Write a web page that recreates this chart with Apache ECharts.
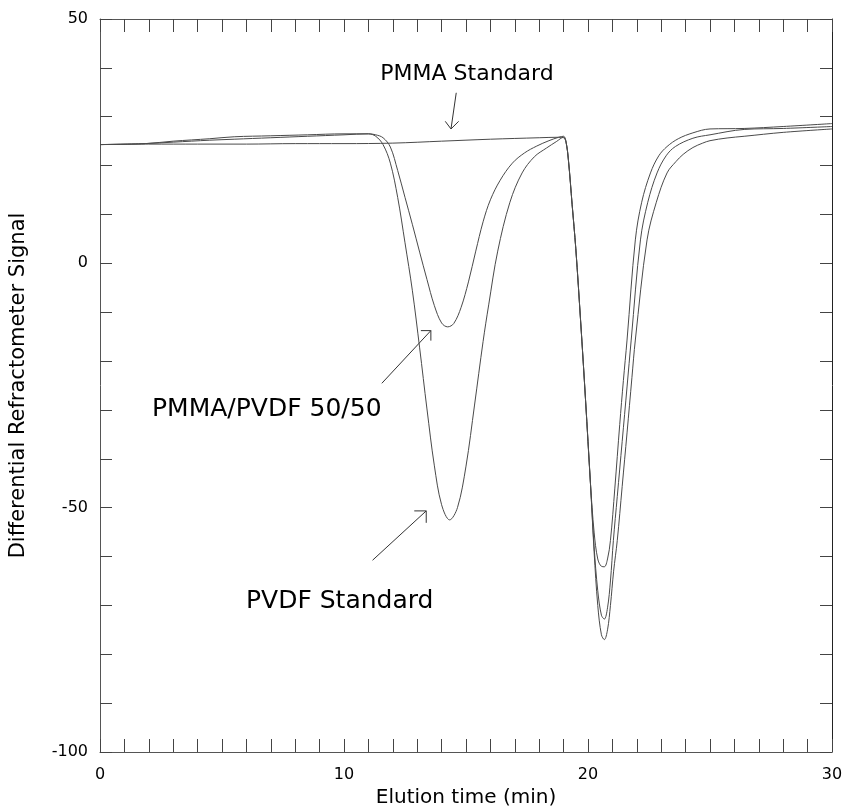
<!DOCTYPE html>
<html><head><meta charset="utf-8">
<script src="https://cdn.jsdelivr.net/npm/echarts@6/dist/echarts.min.js"></script>
<style>html,body{margin:0;padding:0;background:#fff}#c{width:845px;height:808px}</style>
</head><body><div id="c"></div>
<script>
// ---- data (elution time in min, differential RI signal) ----
const pmmaX = [0,2,4,6,8,10,12,14,16,18,18.8,19.0,19.1,19.2,19.35,19.5,19.7,19.9,20.1,20.25,20.4,20.55,20.67,20.8,20.92,21.1,21.3,21.45,21.6,21.94,22.2,22.56,22.9,23.24,23.7,24.3,25.0,26.4,28,30];
const pmmaY = [24.3,24.4,24.4,24.4,24.5,24.5,24.6,25.0,25.4,25.7,25.8,25.7,24.8,21,12,3,-12,-28,-45,-55,-60.5,-62,-62.1,-60.5,-56.7,-46,-33,-24,-15.7,4.8,12.5,18.5,22,23.9,25.5,26.7,27.5,27.6,28.0,28.6];

const blendX = [0,1.85,3,4.5,5.5,7,8.5,10,11,11.3,11.6,11.9,12.2,12.5,12.8,13.1,13.4,13.7,14.0,14.25,14.5,14.8,15.1,15.4,15.7,16.0,16.4,16.9,17.4,17.9,18.4,18.8,19.0,19.1,19.2,19.35,19.5,19.7,19.9,20.1,20.25,20.4,20.55,20.67,20.8,20.92,21.04,21.2,21.4,21.6,21.77,22.15,22.45,22.83,23.2,23.58,24.3,25.0,26.4,28,30];
const blendY = [24.3,24.5,25.0,25.5,25.9,26.1,26.3,26.5,26.5,26.3,25.7,23.8,19.0,13.5,8.0,2.3,-3.3,-8.6,-12.2,-13,-12.3,-9.0,-3.8,2.5,8.5,13,17,20.5,22.6,24.0,25.1,25.8,26.0,24.9,21,12,3,-12,-28,-45,-58,-67,-72,-72.8,-70.5,-65,-56.7,-47.7,-36.5,-25.3,-15.7,4.8,12.5,18.5,22,23.9,25.6,26.3,27.4,27.6,28.0];

const pvdfX = [0,1.85,3,4.5,5.5,7,8.5,10,11,11.3,11.6,11.9,12.2,12.5,12.8,13.1,13.4,13.7,14.0,14.33,14.65,15.0,15.35,15.7,15.93,16.3,16.8,17.3,17.8,18.3,18.7,19.0,19.1,19.2,19.35,19.5,19.7,19.9,20.1,20.25,20.4,20.55,20.67,20.8,20.92,21.05,21.2,21.4,21.6,21.8,21.94,22.42,22.8,23.24,23.6,23.9,24.3,24.7,25.0,25.7,26.4,28,30];
const pvdfY = [24.3,24.5,24.8,25.2,25.4,25.7,26.0,26.3,26.5,26.0,24.3,20.5,13.5,4.2,-5.5,-17.3,-29.8,-41.3,-49.4,-52.5,-50,-41.5,-29,-16,-8.5,2.5,12.5,18.5,21.8,23.6,24.9,25.8,24.8,21,12,3,-12,-28,-45,-59,-70,-76,-77,-75,-70,-63,-56.7,-45.7,-34.7,-23.4,-15.7,4.8,12.5,18.5,20.8,22.3,23.7,24.6,25.1,25.65,26.0,26.8,27.5];

const xTicks = [0,10,20,30];
const yTicks = [-100,-50,0,50];

function pairs(xs, ys){ return xs.map((x,i)=>[x, ys[i]]); }

const chart = echarts.init(document.getElementById('c'), null, {renderer:'canvas'});
const FONT = 'DejaVu Sans, Liberation Sans, Arial, sans-serif';
const axisLine = {show:true, onZero:false, lineStyle:{color:'#555', width:1}};
const tickStyle = {color:'#444', width:1};
const lineStyle = {color:'#4a4a4a', width:1};

chart.setOption({
  animation:false,
  backgroundColor:'#fff',
  grid:{left:100, top:19, width:732, height:733, containLabel:false, outerBoundsMode:'none'},
  xAxis:[{
    type:'value', min:0, max:30, interval:1, position:'bottom',
    axisLine:axisLine,
    axisTick:{show:true, inside:true, length:13, lineStyle:tickStyle},
    axisLabel:{show:true, margin:15, fontSize:16, color:'#000', fontFamily:FONT,
      formatter:v=> xTicks.indexOf(v)>=0 ? String(v) : ''},
    splitLine:{show:false},
    name:'Elution time (min)', nameLocation:'middle', nameGap:33,
    nameTextStyle:{fontSize:20, color:'#000', fontFamily:FONT}
  },{
    type:'value', min:0, max:30, interval:1, position:'top',
    axisLine:axisLine,
    axisTick:{show:true, inside:true, length:13, lineStyle:tickStyle},
    axisLabel:{show:false}, splitLine:{show:false}
  }],
  yAxis:[{
    type:'value', min:-100, max:50, interval:10, position:'left',
    axisLine:axisLine,
    axisTick:{show:true, inside:true, length:12, lineStyle:tickStyle},
    axisLabel:{show:true, margin:12, fontSize:16, color:'#000', fontFamily:FONT,
      formatter:v=> yTicks.indexOf(v)>=0 ? String(v) : ''},
    splitLine:{show:false},
    name:'Differential Refractometer Signal', nameLocation:'middle', nameGap:71,
    nameTextStyle:{fontSize:21, color:'#000', fontFamily:FONT}
  },{
    type:'value', min:-100, max:50, interval:10, position:'right',
    axisLine:{show:true, onZero:false, lineStyle:{color:'#222', width:1}},
    axisTick:{show:true, inside:true, length:12, lineStyle:tickStyle},
    axisLabel:{show:false}, splitLine:{show:false}
  }],
  series:[
    {name:'PMMA Standard', type:'line', data:pairs(pmmaX,pmmaY), showSymbol:false, smooth:0.35, lineStyle:lineStyle},
    {name:'PMMA/PVDF 50/50', type:'line', data:pairs(blendX,blendY), showSymbol:false, smooth:0.35, lineStyle:lineStyle},
    {name:'PVDF Standard', type:'line', data:pairs(pvdfX,pvdfY), showSymbol:false, smooth:0.35, lineStyle:lineStyle}
  ]
});

// annotations: text + arrows placed via the chart's own coordinate conversion
function P(x,y){ return chart.convertToPixel({gridIndex:0}, [x,y]); }
function arrow(tail, tip, b1, b2){
  return [
    {type:'polyline', shape:{points:[P(...tail), P(...tip)]}, style:{stroke:'#333', lineWidth:1, fill:null}},
    {type:'polyline', shape:{points:[P(...b1), P(...tip), P(...b2)]}, style:{stroke:'#333', lineWidth:1, fill:null}}
  ];
}
const txt = {fill:'#000', fontFamily:FONT};
chart.setOption({
  graphic:[
    {type:'text', x:467, y:74, style:Object.assign({text:'PMMA Standard', fontSize:22, textAlign:'center', textVerticalAlign:'middle'}, txt)},
    {type:'text', x:152, y:409, style:Object.assign({text:'PMMA/PVDF 50/50', fontSize:25, textAlign:'left', textVerticalAlign:'middle'}, txt)},
    {type:'text', x:246, y:601, style:Object.assign({text:'PVDF Standard', fontSize:25, textAlign:'left', textVerticalAlign:'middle'}, txt)},
    ...arrow([14.60,34.9],[14.385,27.5],[14.15,29.06],[14.70,29.06]),
    ...arrow([11.55,-24.55],[13.56,-13.77],[13.15,-13.77],[13.56,-15.82]),
    ...arrow([11.17,-60.76],[13.37,-50.66],[12.88,-50.66],[13.37,-53.1])
  ]
});
</script></body></html>
